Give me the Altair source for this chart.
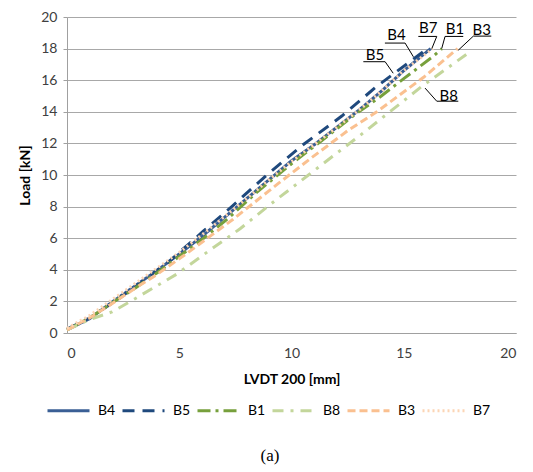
import altair as alt
import pandas as pd

# ---- data ----
series = ["B4", "B5", "B1", "B8", "B3", "B7"]

b4_x = [0, 1, 2, 3, 4, 5, 6, 7, 8, 9, 10, 11, 12, 13, 14, 15, 16.2]
b4_y = [0.2, 0.9, 1.95, 2.95, 3.95, 5.0, 6.1, 7.3, 8.5, 9.7, 10.9, 11.9, 13.0, 14.1, 15.3, 16.6, 18.0]

b5_x = [0, 1, 2.3, 3.6, 4.6, 6.07, 7.34, 8.9, 10.5, 12.24, 13.79, 16.1]
b5_y = [0.25, 0.95, 2.17, 3.52, 4.6, 6.44, 8.0, 10.0, 11.9, 13.73, 15.6, 18.05]

b1_x = [0, 1, 2, 3, 4, 5, 6, 7.11, 8.45, 10.08, 11.34, 12.83, 14, 15, 16.3, 16.7]
b1_y = [0.2, 0.95, 1.9, 2.8, 3.8, 4.85, 5.9, 7.17, 8.9, 10.8, 12.17, 13.83, 15.0, 16.1, 17.5, 18.0]

b8_x = [0, 1, 2.0, 3.03, 4.89, 6.37, 7.71, 9.11, 10.8, 12.08, 13.05, 15.8, 17.95]
b8_y = [0.2, 0.85, 1.33, 2.17, 3.73, 5.25, 6.6, 8.2, 10.05, 11.45, 12.5, 15.6, 17.8]

b3_x = [0, 1, 2, 3, 4, 5.3, 7.4, 9.4, 10.9, 12.5, 13.8, 15.9, 17.4]
b3_y = [0.2, 0.95, 1.85, 2.8, 3.7, 5.0, 7.2, 9.45, 11.1, 12.8, 14.0, 16.2, 18.0]

b7_x = [0, 1, 2, 3, 4, 5, 6, 7, 8, 9, 10, 11, 12, 13, 14, 15, 16.3]
b7_y = [0.3, 1.1, 2.1, 3.1, 4.1, 5.1, 6.2, 7.35, 8.5, 9.7, 10.85, 11.9, 13.0, 14.1, 15.3, 16.6, 18.0]

colors = ["#3A5F95", "#1F497D", "#77A03C", "#C3D69B", "#FAC090", "#FCD5B5"]
dashes = [[1, 0], [12, 8], [13, 5, 3, 5], [11, 7, 3, 7], [8, 4], [2, 3]]

# annotation labels (data units)
lab_name = ["B7", "B1", "B3", "B4", "B5", "B8"]
lab_x = [16.09, 17.28, 18.47, 14.68, 13.72, 17.0]
lab_y = [19.3, 19.25, 19.15, 18.85, 17.6, 15.0]
ul_x1 = [15.65, 16.84, 18.10, 14.16, 13.20, 16.47]
ul_x2 = [16.47, 17.65, 18.90, 15.06, 14.17, 17.43]
ul_y = [18.77, 18.77, 18.79, 18.35, 17.17, 14.67]
ld_x1 = [16.47, 16.84, 18.10, 15.06, 14.17, 16.47]
ld_y1 = [18.77, 18.77, 18.79, 18.35, 17.17, 14.67]
ld_x2 = [16.25, 16.69, 17.43, 15.43, 14.53, 15.95]
ld_y2 = [18.0, 18.0, 17.9, 17.48, 16.44, 15.5]

x_ticks = [0, 5, 10, 15, 20]
y_ticks = [0, 2, 4, 6, 8, 10, 12, 14, 16, 18, 20]

rows = []
for name, xs, ys in [("B4", b4_x, b4_y), ("B5", b5_x, b5_y), ("B1", b1_x, b1_y),
                     ("B8", b8_x, b8_y), ("B3", b3_x, b3_y), ("B7", b7_x, b7_y)]:
    for i, (xv, yv) in enumerate(zip(xs, ys)):
        rows.append({"series": name, "x": xv, "y": yv, "i": i})
df = pd.DataFrame(rows)

font = "Lato"

xscale = alt.Scale(domain=[0, 20], nice=False)
yscale = alt.Scale(domain=[0, 20], nice=False)
xaxis = alt.Axis(title="LVDT 200 [mm]", values=x_ticks, grid=False, ticks=False,
                 labelPadding=13, titlePadding=12, labelOverlap=False)
yaxis = alt.Axis(title="Load [kN]", values=y_ticks, grid=True, tickSize=4,
                 labelPadding=6, titlePadding=8, labelOverlap=False)

lines = alt.Chart(df).mark_line(strokeWidth=3, strokeCap="butt").encode(
    x=alt.X("x:Q", scale=xscale, axis=xaxis),
    y=alt.Y("y:Q", scale=yscale, axis=yaxis),
    color=alt.Color("series:N", scale=alt.Scale(domain=series, range=colors),
                    legend=alt.Legend(
                        title=None, orient="none", legendX=-21, legendY=371,
                        direction="horizontal", columns=6, symbolType="stroke",
                        symbolSize=1764, symbolStrokeWidth=3, labelFont=font,
                        labelFontSize=14, labelColor="#000000", labelOffset=7,
                        columnPadding=0)),
    strokeDash=alt.StrokeDash("series:N", scale=alt.Scale(domain=series, range=dashes),
                              legend=None),
    order="i:Q",
    detail="series:N",
)

ann = pd.DataFrame({"name": lab_name, "lx": lab_x, "ly": lab_y,
                    "ux1": ul_x1, "ux2": ul_x2, "uy": ul_y,
                    "dx1": ld_x1, "dy1": ld_y1, "dx2": ld_x2, "dy2": ld_y2})

labels = alt.Chart(ann).mark_text(font=font, fontSize=15, color="#000000",
                                  baseline="middle", align="center").encode(
    x=alt.X("lx:Q", scale=xscale, axis=xaxis),
    y=alt.Y("ly:Q", scale=yscale, axis=yaxis), text="name:N")
underl = alt.Chart(ann).mark_rule(color="#000000", strokeWidth=1).encode(
    x=alt.X("ux1:Q", scale=xscale, axis=xaxis), x2="ux2:Q",
    y=alt.Y("uy:Q", scale=yscale, axis=yaxis))
leader = alt.Chart(ann).mark_rule(color="#000000", strokeWidth=1).encode(
    x=alt.X("dx1:Q", scale=xscale, axis=xaxis), x2="dx2:Q",
    y=alt.Y("dy1:Q", scale=yscale, axis=yaxis), y2="dy2:Q")

caption = alt.Chart(pd.DataFrame({"t": ["(a)"]})).mark_text(
    font="Liberation Serif", fontSize=17, color="#000000").encode(
    x=alt.value(203), y=alt.value(439), text="t:N")

chart = alt.layer(lines, underl, leader, labels, caption).properties(
    width=449, height=316,
    autosize=alt.AutoSizeParams(type="none"),
    padding={"left": 59, "top": 9, "right": 9, "bottom": 136},
).configure_view(stroke=None).configure_axis(
    labelFont=font, labelFontSize=14, labelColor="#404040",
    titleFont=font, titleFontSize=14, titleFontWeight="bold", titleColor="#000000",
    domainColor="#A0A0A0", tickColor="#A0A0A0", gridColor="#A8A8A8",
    gridWidth=1,
)

chart.save("out.html", embed_options={"renderer": "svg", "actions": False})
